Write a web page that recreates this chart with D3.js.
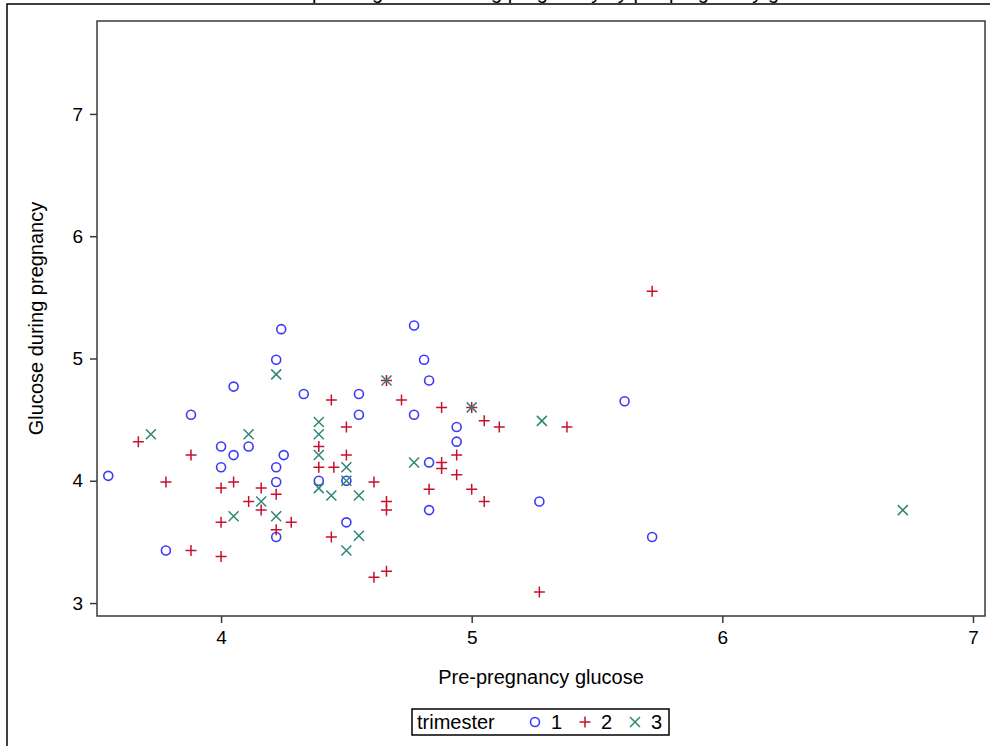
<!DOCTYPE html>
<html>
<head>
<meta charset="utf-8">
<script src="https://cdn.jsdelivr.net/npm/d3@7"></script>
<style>
  body { margin: 0; background: #fff; }
  text { font-family: "Liberation Sans", Arial, sans-serif; fill: #000; }
  .tick text { font-size: 19px; }
</style>
</head>
<body>
<svg id="chart" width="990" height="746"></svg>
<script>
// trimester 1 (circles)
var t1Pre = [3.55, 3.78, 3.88, 4.00, 4.00, 4.05, 4.05, 4.11, 4.22, 4.22, 4.22, 4.22, 4.24, 4.25, 4.33, 4.39,
  4.50, 4.50, 4.55, 4.55, 4.77, 4.77, 4.81, 4.83, 4.83, 4.83, 4.94, 4.94, 5.27, 5.61, 5.72];
var t1Dur = [4.04, 3.43, 4.54, 4.28, 4.11, 4.77, 4.21, 4.28, 4.99, 4.11, 3.99, 3.54, 5.24, 4.21, 4.71, 4.00,
  4.00, 3.66, 4.71, 4.54, 5.27, 4.54, 4.99, 4.82, 4.15, 3.76, 4.44, 4.32, 3.83, 4.65, 3.54];

// trimester 2 (plus)
var t2Pre = [3.67, 3.78, 3.88, 3.88, 4.00, 4.00, 4.00, 4.05, 4.11, 4.16, 4.16, 4.22, 4.22, 4.28, 4.39, 4.39,
  4.44, 4.45, 4.44, 4.50, 4.50, 4.61, 4.61, 4.66, 4.66, 4.66, 4.66, 4.72, 4.83, 4.88, 4.88, 4.88, 4.94, 4.94,
  5.00, 5.00, 5.05, 5.05, 5.11, 5.27, 5.38, 5.72];
var t2Dur = [4.32, 3.99, 4.21, 3.43, 3.94, 3.66, 3.38, 3.99, 3.83, 3.94, 3.76, 3.89, 3.60, 3.66, 4.28, 4.11,
  4.66, 4.11, 3.54, 4.44, 4.21, 3.99, 3.21, 4.82, 3.83, 3.76, 3.26, 4.66, 3.93, 4.60, 4.15, 4.10, 4.21, 4.05,
  4.60, 3.93, 4.49, 3.83, 4.44, 3.09, 4.44, 5.55];

// trimester 3 (x)
var t3Pre = [3.72, 4.05, 4.11, 4.16, 4.22, 4.22, 4.39, 4.39, 4.39, 4.39, 4.44, 4.50, 4.50, 4.50, 4.55, 4.55,
  4.66, 4.77, 5.00, 5.28, 6.72];
var t3Dur = [4.38, 3.71, 4.38, 3.83, 4.87, 3.71, 4.48, 4.38, 4.21, 3.94, 3.88, 4.11, 4.00, 3.43, 3.88, 3.55,
  4.82, 4.15, 4.60, 4.49, 3.76];

var xTicks = [4, 5, 6, 7];
var yTicks = [3, 4, 5, 6, 7];
var groupNames = ["1", "2", "3"];

var svg = d3.select("#chart");

var margin = {left: 97, top: 21, right: 5, bottom: 130},
  width = 990 - margin.left - margin.right,
  height = 746 - margin.top - margin.bottom;

var x = d3.scaleLinear().domain([3.505, 7.048]).range([0, width]);
var y = d3.scaleLinear().domain([2.894, 7.76]).range([height, 0]);

var colors = ["#3b3bf5", "#c8102e", "#2f8575"];

function markerPath(kind, s) {
  if (kind === 1) return "M" + (-s) + ",0H" + s + "M0," + (-s) + "V" + s;
  return "M" + (-s) + "," + (-s) + "L" + s + "," + s + "M" + (-s) + "," + s + "L" + s + "," + (-s);
}

// title, cut off at the top edge like in the source image
svg.append("text")
  .attr("x", 540).attr("y", -1)
  .attr("text-anchor", "middle")
  .style("font-size", "20px")
  .text("Scatter plot of glucose during pregnancy by pre-pregnancy glucose");

// outer border
svg.append("path")
  .attr("d", "M7,746V4H990")
  .attr("fill", "none").attr("stroke", "#000").attr("stroke-width", 1.5);

var g = svg.append("g").attr("transform", "translate(" + margin.left + "," + margin.top + ")");

g.append("rect")
  .attr("width", width).attr("height", height)
  .attr("fill", "#fff").attr("stroke", "#3a3a3a").attr("stroke-width", 1.5);

var xAxis = g.append("g")
  .attr("transform", "translate(0," + height + ")")
  .call(d3.axisBottom(x).tickValues(xTicks).tickFormat(d3.format("d")).tickSize(7).tickPadding(8));
var yAxis = g.append("g")
  .call(d3.axisLeft(y).tickValues(yTicks).tickFormat(d3.format("d")).tickSize(7).tickPadding(7));

[xAxis, yAxis].forEach(function(a) {
  a.attr("font-size", 19).attr("font-family", "Liberation Sans, Arial, sans-serif");
  a.select(".domain").remove();
  a.selectAll("line").attr("stroke", "#3a3a3a").attr("stroke-width", 1.5);
  a.selectAll("text").attr("fill", "#000");
});

g.append("text")
  .attr("x", width / 2).attr("y", height + 68)
  .attr("text-anchor", "middle")
  .style("font-size", "20px")
  .text("Pre-pregnancy glucose");

g.append("text")
  .attr("transform", "translate(-54," + (height / 2) + ") rotate(-90)")
  .attr("text-anchor", "middle")
  .style("font-size", "20px")
  .text("Glucose during pregnancy");

var groups = [
  {pre: t1Pre, dur: t1Dur},
  {pre: t2Pre, dur: t2Dur},
  {pre: t3Pre, dur: t3Dur}
];

groups.forEach(function(grp, k) {
  var pts = grp.pre.map(function(v, i) { return {x: v, y: grp.dur[i]}; });
  var sel = g.append("g").selectAll(".pt").data(pts).enter();
  if (k === 0) {
    sel.append("circle")
      .attr("cx", function(d) { return x(d.x); })
      .attr("cy", function(d) { return y(d.y); })
      .attr("r", 4.5)
      .attr("fill", "none").attr("stroke", colors[k]).attr("stroke-width", 1.6);
  } else {
    sel.append("path")
      .attr("transform", function(d) { return "translate(" + x(d.x) + "," + y(d.y) + ")"; })
      .attr("d", markerPath(k, k === 1 ? 5.5 : 5))
      .attr("fill", "none").attr("stroke", colors[k]).attr("stroke-width", 1.5);
  }
});

// legend
var leg = svg.append("g").attr("transform", "translate(412,709)");
leg.append("rect").attr("width", 257).attr("height", 26)
  .attr("fill", "#fff").attr("stroke", "#000").attr("stroke-width", 1.5);
leg.append("text").attr("x", 5).attr("y", 20).style("font-size", "20px").text("trimester");

var legX = d3.scalePoint().domain(groupNames).range([123, 223]);
groupNames.forEach(function(name, k) {
  var cx = legX(name);
  if (k === 0) {
    leg.append("circle").attr("cx", cx).attr("cy", 13).attr("r", 4.5)
      .attr("fill", "none").attr("stroke", colors[k]).attr("stroke-width", 1.6);
  } else {
    leg.append("path").attr("transform", "translate(" + cx + ",13)")
      .attr("d", markerPath(k, k === 1 ? 5.5 : 5))
      .attr("fill", "none").attr("stroke", colors[k]).attr("stroke-width", 1.5);
  }
  leg.append("text").attr("x", cx + 16).attr("y", 20).style("font-size", "20px").text(name);
});
</script>
</body>
</html>
